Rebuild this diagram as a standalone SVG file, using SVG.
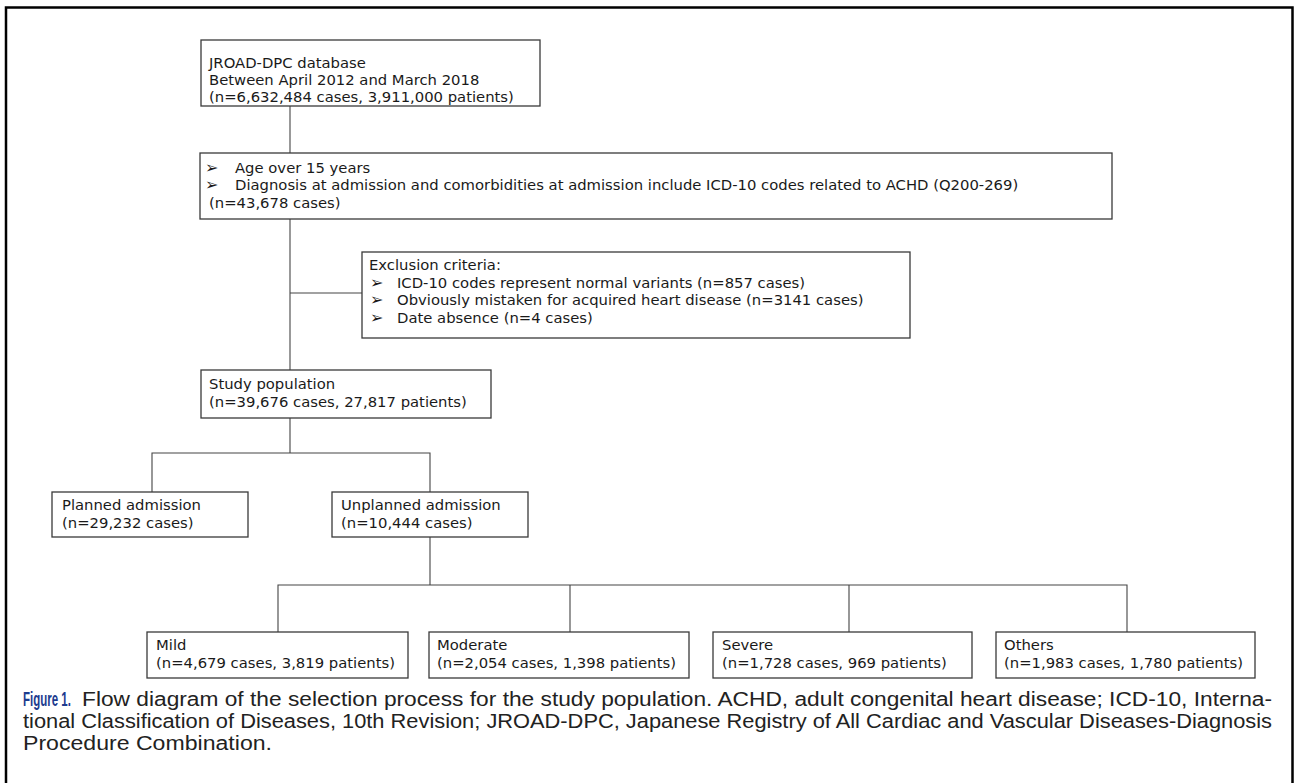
<svg xmlns="http://www.w3.org/2000/svg" width="1297" height="783" viewBox="0 0 1297 783">
<style>
.box{fill:#fff;stroke:#3a3a3a;stroke-width:1.3}
.t{font-family:"DejaVu Sans",Verdana,sans-serif;font-size:14.8px;fill:#1a1a1a}
.b{font-family:"DejaVu Sans",sans-serif;font-size:16px;fill:#1a1a1a}
.ln{fill:none;stroke:#444;stroke-width:1.1}
.cap{font-family:"Liberation Sans",Arial,sans-serif;font-size:19.5px;fill:#222}
.fig{font-family:"Liberation Sans",Arial,sans-serif;font-size:20.5px;font-weight:bold;fill:#1d3c8f}
</style>
<rect x="0" y="0" width="1297" height="783" fill="#fff"/>
<path d="M6 790 V7.5 H1292.5 V790" fill="none" stroke="#000" stroke-width="2.5"/>
<g id="connectors">
<path class="ln" d="M290 106 V153"/>
<path class="ln" d="M290 219 V370"/>
<path class="ln" d="M290 293 H362"/>
<path class="ln" d="M290 418 V453 M152 492 V453 H430 V492"/>
<path class="ln" d="M430 537 V585 M278 632 V585 H1127 V632 M570 585 V632 M849 585 V632"/>
</g>
<g id="n1">
<rect class="box" x="201" y="40" width="339" height="66"/>
<text class="t" x="209" y="68">JROAD-DPC database</text>
<text class="t" x="209" y="85">Between April 2012 and March 2018</text>
<text class="t" x="209" y="102">(n=6,632,484 cases, 3,911,000 patients)</text>
</g>
<g id="n2">
<rect class="box" x="200" y="153" width="912" height="66"/>
<text class="b" x="205" y="173">➢</text>
<text class="t" x="235" y="173">Age over 15 years</text>
<text class="b" x="205" y="190">➢</text>
<text class="t" x="235" y="190">Diagnosis at admission and comorbidities at admission include ICD-10 codes related to ACHD (Q200-269)</text>
<text class="t" x="209" y="208">(n=43,678 cases)</text>
</g>
<g id="n3">
<rect class="box" x="362" y="252" width="548" height="86"/>
<text class="t" x="369" y="270">Exclusion criteria:</text>
<text class="b" x="370" y="288">➢</text>
<text class="t" x="397" y="288">ICD-10 codes represent normal variants (n=857 cases)</text>
<text class="b" x="370" y="305">➢</text>
<text class="t" x="397" y="305">Obviously mistaken for acquired heart disease (n=3141 cases)</text>
<text class="b" x="370" y="323">➢</text>
<text class="t" x="397" y="323">Date absence (n=4 cases)</text>
</g>
<g id="n4">
<rect class="box" x="201" y="370" width="290" height="48"/>
<text class="t" x="209" y="389">Study population</text>
<text class="t" x="209" y="407">(n=39,676 cases, 27,817 patients)</text>
</g>
<g id="n5">
<rect class="box" x="52" y="492" width="196" height="45"/>
<text class="t" x="62" y="510">Planned admission</text>
<text class="t" x="62" y="528">(n=29,232 cases)</text>
</g>
<g id="n6">
<rect class="box" x="332" y="492" width="196" height="45"/>
<text class="t" x="341" y="510">Unplanned admission</text>
<text class="t" x="341" y="528">(n=10,444 cases)</text>
</g>
<g id="n7">
<rect class="box" x="147" y="632" width="261" height="46"/>
<text class="t" x="156" y="650">Mild</text>
<text class="t" x="156" y="668">(n=4,679 cases, 3,819 patients)</text>
</g>
<g id="n8">
<rect class="box" x="429" y="632" width="260" height="46"/>
<text class="t" x="437" y="650">Moderate</text>
<text class="t" x="437" y="668">(n=2,054 cases, 1,398 patients)</text>
</g>
<g id="n9">
<rect class="box" x="713" y="632" width="259" height="46"/>
<text class="t" x="722" y="650">Severe</text>
<text class="t" x="722" y="668">(n=1,728 cases, 969 patients)</text>
</g>
<g id="n10">
<rect class="box" x="996" y="632" width="259" height="46"/>
<text class="t" x="1004" y="650">Others</text>
<text class="t" x="1004" y="668">(n=1,983 cases, 1,780 patients)</text>
</g>
<g id="caption">
<text class="fig" transform="translate(23 706) scale(0.56 1)">Figure 1.</text>
<text class="cap" x="82" y="706" textLength="1190" lengthAdjust="spacingAndGlyphs">Flow diagram of the selection process for the study population. ACHD, adult congenital heart disease; ICD-10, Interna-</text>
<text class="cap" x="23" y="728" textLength="1249" lengthAdjust="spacingAndGlyphs">tional Classification of Diseases, 10th Revision; JROAD-DPC, Japanese Registry of All Cardiac and Vascular Diseases-Diagnosis</text>
<text class="cap" x="23" y="750" textLength="249" lengthAdjust="spacingAndGlyphs">Procedure Combination.</text>
</g>
</svg>
